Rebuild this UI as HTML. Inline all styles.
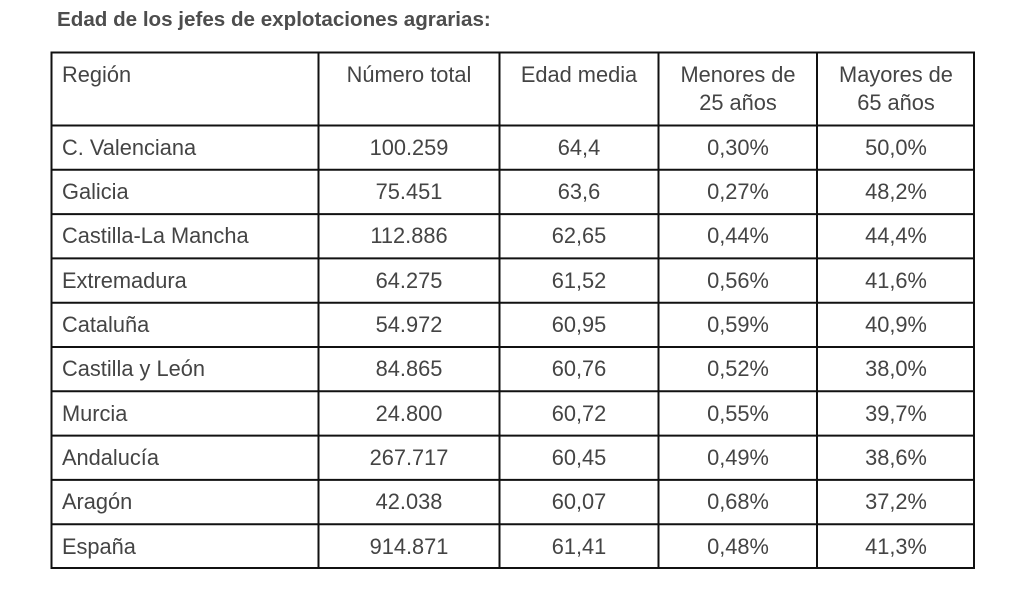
<!DOCTYPE html>
<html><head><meta charset="utf-8"><style>
html,body{margin:0;padding:0;background:#fff;width:1024px;height:593px;overflow:hidden}
svg text{font-family:"Liberation Sans",Arial,sans-serif;font-size:21.8px;fill:#444}
</style></head><body>
<svg width="1024" height="593" xmlns="http://www.w3.org/2000/svg">
<text x="57" y="26" style="font-weight:bold;font-size:20.6px;fill:#4d4d4d">Edad de los jefes de explotaciones agrarias:</text>
<g stroke="#111" stroke-width="2" fill="none">
<rect x="51.5" y="52.5" width="922.5" height="515.5"/>
<line x1="318.5" y1="52" x2="318.5" y2="568"/>
<line x1="499.5" y1="52" x2="499.5" y2="568"/>
<line x1="658.5" y1="52" x2="658.5" y2="568"/>
<line x1="817" y1="52" x2="817" y2="568"/>
<line x1="51" y1="125.5" x2="974" y2="125.5"/>
<line x1="51" y1="169.8" x2="974" y2="169.8"/>
<line x1="51" y1="214.1" x2="974" y2="214.1"/>
<line x1="51" y1="258.4" x2="974" y2="258.4"/>
<line x1="51" y1="302.7" x2="974" y2="302.7"/>
<line x1="51" y1="347" x2="974" y2="347"/>
<line x1="51" y1="391.3" x2="974" y2="391.3"/>
<line x1="51" y1="435.6" x2="974" y2="435.6"/>
<line x1="51" y1="479.9" x2="974" y2="479.9"/>
<line x1="51" y1="524.2" x2="974" y2="524.2"/>
</g>
<text x="62" y="82">Región</text>
<g text-anchor="middle">
<text x="409" y="82">Número total</text>
<text x="579" y="82">Edad media</text>
<text x="738" y="82">Menores de</text>
<text x="738" y="110">25 años</text>
<text x="896" y="82">Mayores de</text>
<text x="896" y="110">65 años</text>
</g>
<g>
<text x="62" y="155">C. Valenciana</text>
<text x="62" y="199">Galicia</text>
<text x="62" y="243">Castilla-La Mancha</text>
<text x="62" y="288">Extremadura</text>
<text x="62" y="332">Cataluña</text>
<text x="62" y="376">Castilla y León</text>
<text x="62" y="421">Murcia</text>
<text x="62" y="465">Andalucía</text>
<text x="62" y="509">Aragón</text>
<text x="62" y="554">España</text>
</g>
<g text-anchor="middle">
<text x="409" y="155">100.259</text><text x="579" y="155">64,4</text><text x="738" y="155">0,30%</text><text x="896" y="155">50,0%</text>
<text x="409" y="199">75.451</text><text x="579" y="199">63,6</text><text x="738" y="199">0,27%</text><text x="896" y="199">48,2%</text>
<text x="409" y="243">112.886</text><text x="579" y="243">62,65</text><text x="738" y="243">0,44%</text><text x="896" y="243">44,4%</text>
<text x="409" y="288">64.275</text><text x="579" y="288">61,52</text><text x="738" y="288">0,56%</text><text x="896" y="288">41,6%</text>
<text x="409" y="332">54.972</text><text x="579" y="332">60,95</text><text x="738" y="332">0,59%</text><text x="896" y="332">40,9%</text>
<text x="409" y="376">84.865</text><text x="579" y="376">60,76</text><text x="738" y="376">0,52%</text><text x="896" y="376">38,0%</text>
<text x="409" y="421">24.800</text><text x="579" y="421">60,72</text><text x="738" y="421">0,55%</text><text x="896" y="421">39,7%</text>
<text x="409" y="465">267.717</text><text x="579" y="465">60,45</text><text x="738" y="465">0,49%</text><text x="896" y="465">38,6%</text>
<text x="409" y="509">42.038</text><text x="579" y="509">60,07</text><text x="738" y="509">0,68%</text><text x="896" y="509">37,2%</text>
<text x="409" y="554">914.871</text><text x="579" y="554">61,41</text><text x="738" y="554">0,48%</text><text x="896" y="554">41,3%</text>
</g>
</svg>
</body></html>
